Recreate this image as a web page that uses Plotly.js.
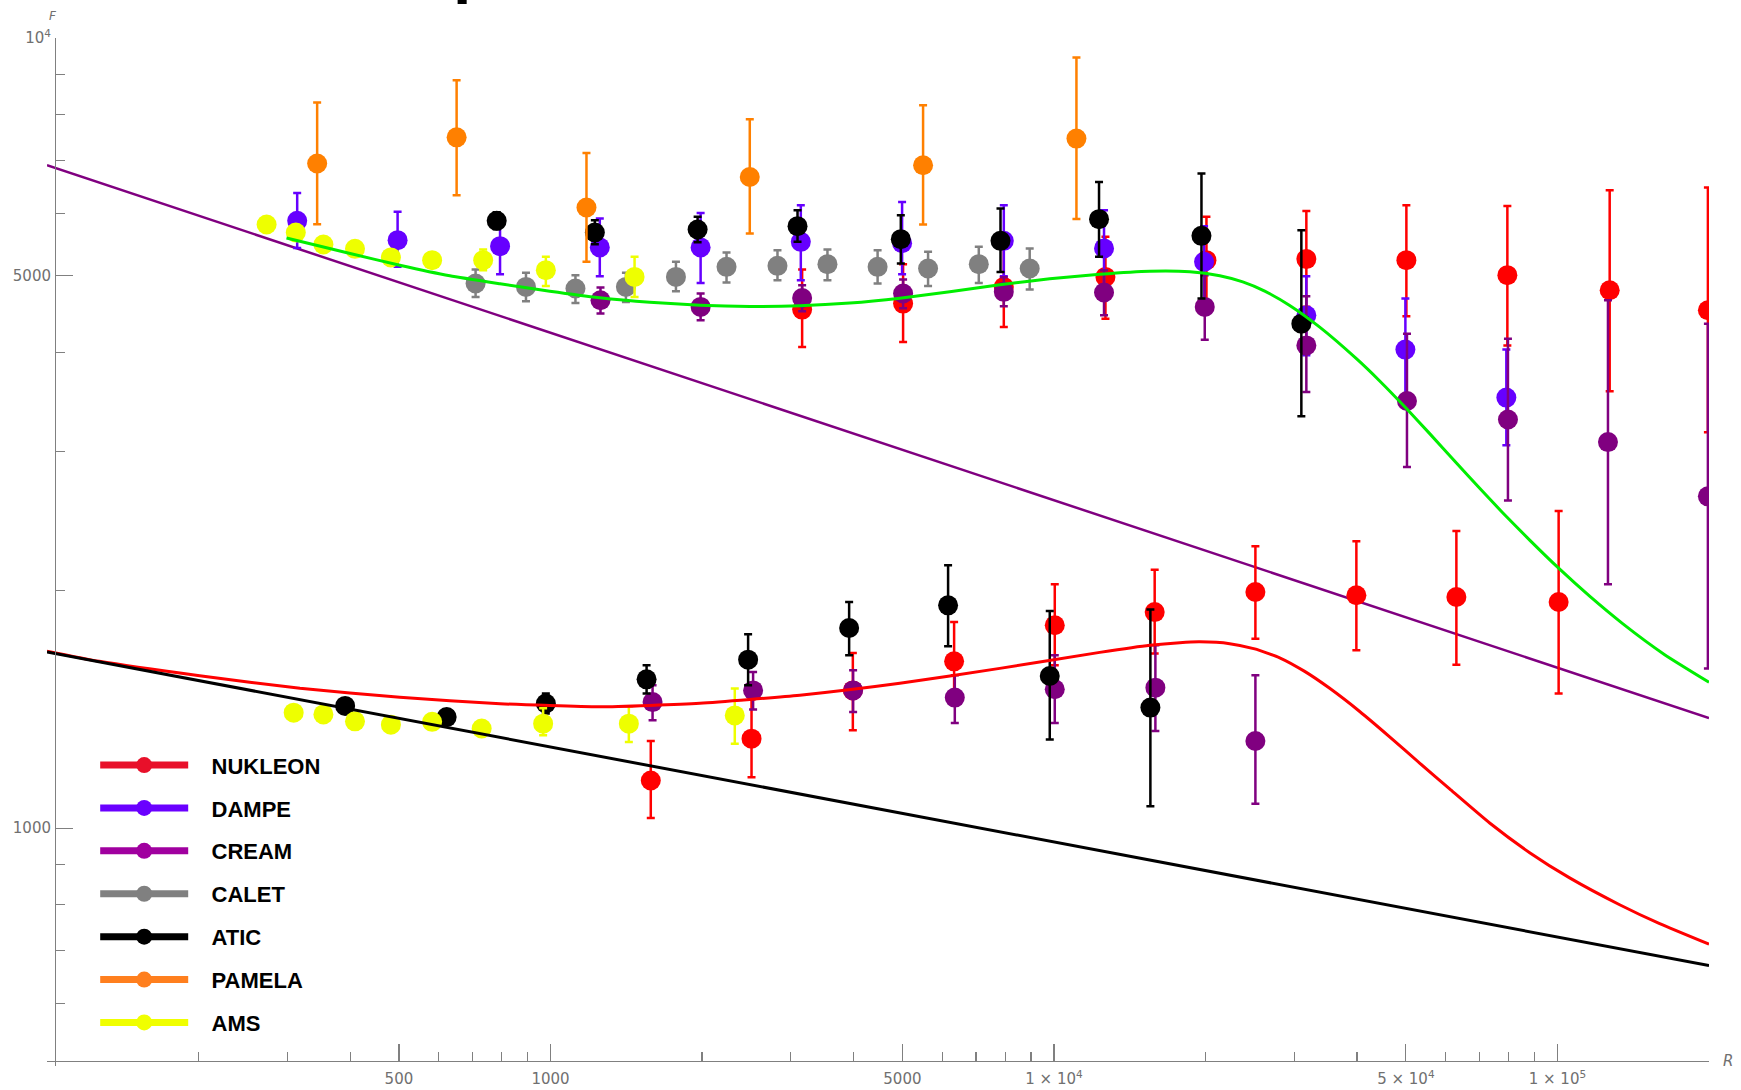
<!DOCTYPE html>
<html>
<head>
<meta charset="utf-8">
<script src="https://cdn.plot.ly/plotly-3.0.1.min.js"></script>
<style>
  html, body { margin: 0; padding: 0; background: #ffffff; }
  #chart { width: 1741px; height: 1090px; }
</style>
</head>
<body>
<div id="chart"></div>
<script>
// ---- Experiment series: rigidity R, flux F, upper and lower error bounds ----
// NUKLEON
const nukleonP_R  = [3161, 5016, 7950, 12655, 20085, 31717, 50115, 79530, 126990, 199000];
const nukleonP_F  = [4532, 4612, 4842, 4985, 5234, 5250, 5234, 5010, 4795, 4523];
const nukleonP_hi = [5094, 5173, 5432, 5602, 5938, 6042, 6143, 6131, 6417, 6467];
const nukleonP_lo = [4063, 4123, 4307, 4414, 4612, 4570, 4444, 4083, 3571, 3171];

const nukleonHe_R  = [1582, 2508, 3986, 6334, 10037, 15851, 25125, 39870, 62990, 100550];
const nukleonHe_F  = [1149, 1298, 1494, 1626, 1806, 1877, 1990, 1971, 1961, 1933];
const nukleonHe_hi = [1289, 1456, 1666, 1823, 2035, 2124, 2274, 2307, 2377, 2519];
const nukleonHe_lo = [1030, 1160, 1330, 1452, 1607, 1663, 1737, 1679, 1610, 1480];

// DAMPE
const dampeP_R  = [314, 497, 794, 1253, 1987, 3142, 4993, 7950, 12573, 19867, 31717, 49886, 79165];
const dampeP_F  = [5869, 5548, 5452, 5432, 5432, 5521, 5500, 5537, 5416, 5208, 4457, 4033, 3507];
const dampeP_hi = [6367, 6025, 5914, 5910, 6007, 6143, 6202, 6143, 6055, 5779, 4995, 4680, 4033];
const dampeP_lo = [5421, 5133, 5025, 4995, 4898, 4937, 5025, 4995, 4795, 4657, 3966, 3530, 3051];

// CREAM
const creamP_R  = [1257, 1987, 3161, 5016, 7950, 12573, 19930, 31717, 50252, 79746, 126000, 199000];
const creamP_F  = [4657, 4567, 4688, 4749, 4772, 4763, 4567, 4083, 3472, 3290, 3080, 2630];
const creamP_hi = [4832, 4749, 4866, 4948, 4981, 5084, 5010, 4712, 4225, 4164, 4657, 4350];
const creamP_lo = [4480, 4392, 4510, 4549, 4576, 4457, 4152, 3564, 2864, 2599, 2035, 1592];

const creamHe_R  = [1595, 2526, 3991, 6354, 10037, 15902, 25125];
const creamHe_F  = [1444, 1494, 1494, 1463, 1499, 1506, 1289];
const creamHe_hi = [1516, 1576, 1584, 1561, 1655, 1704, 1561];
const creamHe_lo = [1369, 1413, 1403, 1359, 1359, 1327, 1074];

// CALET
const caletP_R  = [710, 894, 1121, 1412, 1775, 2237, 2824, 3549, 4464, 5623, 7091, 8950];
const caletP_F  = [4890, 4842, 4819, 4842, 4985, 5133, 5148, 5173, 5133, 5109, 5173, 5109];
const caletP_hi = [5094, 5044, 5010, 5044, 5208, 5353, 5389, 5400, 5389, 5363, 5441, 5416];
const caletP_lo = [4702, 4643, 4620, 4634, 4781, 4904, 4937, 4937, 4890, 4856, 4898, 4805];

// ATIC
const aticP_R  = [782, 1225, 1960, 3095, 4964, 7831, 12289, 19632, 31000];
const aticP_F  = [5869, 5674, 5724, 5779, 5564, 5537, 5898, 5618, 4350];
const aticP_hi = [6019, 5881, 5938, 6055, 5967, 6085, 6574, 6737, 5712];
const aticP_lo = [5729, 5484, 5516, 5521, 5184, 5058, 5285, 4680, 3321];

const aticHe_R  = [391, 622, 979, 1552, 2469, 3919, 6162, 9810, 15543];
const aticHe_F  = [1428, 1382, 1438, 1543, 1634, 1792, 1914, 1558, 1421];
const aticHe_hi = [1460, 1414, 1480, 1607, 1759, 1933, 2151, 1883, 1891];
const aticHe_lo = [1397, 1353, 1397, 1480, 1516, 1655, 1699, 1295, 1066];

// PAMELA
const pamelaP_R  = [344, 651, 1179, 2488, 5496, 11083];
const pamelaP_F  = [6936, 7487, 6102, 6670, 6902, 7459];
const pamelaP_hi = [8284, 8841, 7153, 7890, 8219, 9445];
const pamelaP_lo = [5813, 6324, 5208, 5658, 5808, 5903];

// AMS
const amsP_R  = [273, 312, 354, 409, 482, 582, 735, 979, 1469];
const amsP_F  = [5808, 5674, 5479, 5410, 5276, 5234, 5234, 5084, 4985];
const amsP_hi = [5910, 5774, 5575, 5505, 5369, 5326, 5400, 5285, 5285];
const amsP_lo = [5707, 5576, 5384, 5316, 5185, 5143, 5084, 4856, 4702];

const amsHe_R  = [309, 354, 409, 482, 582, 730, 967, 1431, 2323];
const amsHe_F  = [1400, 1393, 1365, 1352, 1363, 1337, 1356, 1356, 1389];
const amsHe_hi = [1421, 1414, 1386, 1372, 1384, 1357, 1418, 1426, 1502];
const amsHe_lo = [1379, 1372, 1344, 1332, 1342, 1317, 1311, 1285, 1279];

// ---- Model curves ----
const powerUpper_R = [100, 200000];
const powerUpper_F = [6901, 1378];
const powerLower_R = [100, 200000];
const powerLower_F = [1671, 670];

const modelP_R = [299, 400, 502, 631, 794, 997, 1253, 1575, 1980, 2489, 3128, 3932, 4942, 6210, 7806, 9810,
                  12329, 15497, 18613, 21348, 23714, 26224, 29394, 33714, 39929, 44359, 50186, 55754,
                  63076, 70077, 77846, 88081, 100550, 115860, 134730, 163290, 200000];
const modelP_F = [5584, 5337, 5157, 5001, 4886, 4781, 4691, 4630, 4590, 4574, 4583, 4619, 4684, 4774, 4872, 4958,
                  5023, 5068, 5060, 5001, 4912, 4782, 4587, 4306, 3925, 3681, 3394, 3157,
                  2896, 2692, 2507, 2315, 2133, 1966, 1815, 1658, 1530];

const modelHe_R = [100, 127, 201, 318, 502, 794, 1253, 1980, 3128, 4942, 7806, 12329, 15497, 17777, 19480,
                   22338, 25045, 28076, 31478, 35290, 40480, 46420, 53240, 61070, 73350, 88080, 105740,
                   132900, 159600, 200000];
const modelHe_F = [1675, 1626, 1559, 1503, 1464, 1437, 1424, 1439, 1473, 1525, 1593, 1669, 1704, 1717, 1721,
                   1712, 1686, 1643, 1579, 1503, 1405, 1305, 1209, 1121, 1015, 931, 865,
                   800, 757, 713];

// ---- Axis ticks ----
const xMajorVals = [100, 500, 1000, 5000, 10000, 50000, 100000];
const xMajorText = ['', '500', '1000', '5000', '1 \u00d7 10<sup>4</sup>', '5 \u00d7 10<sup>4</sup>', '1 \u00d7 10<sup>5</sup>'];
const xMinorVals = [200, 300, 400, 600, 700, 800, 900, 2000, 3000, 4000, 6000, 7000, 8000, 9000,
                    20000, 30000, 40000, 60000, 70000, 80000, 90000, 200000];
const yMajorVals = [500, 1000, 5000, 10000];
const yMajorText = ['', '1000', '5000', '10<sup>4</sup>'];
const yMinorVals = [600, 700, 800, 900, 2000, 3000, 4000, 6000, 7000, 8000, 9000];

// ---- Legend entries ----
const legendNames  = ['NUKLEON', 'DAMPE', 'CREAM', 'CALET', 'ATIC', 'PAMELA', 'AMS'];
const legendColors = ['#E8102A', '#6A00FF', '#A0009F', '#808080', '#000000', '#FF7F1E', '#F0FF00'];

const colors = {
  NUKLEON: '#FF0000', DAMPE: '#6600FF', CREAM: '#800080', CALET: '#808080',
  ATIC: '#000000', PAMELA: '#FF8000', AMS: '#EEFF00'
};

function points(name, R, F, hi, lo) {
  const c = colors[name];
  return {
    type: 'scatter', mode: 'markers', name: name, legendgroup: name, showlegend: false,
    x: R, y: F,
    marker: { color: c, size: 20 },
    error_y: {
      type: 'data', symmetric: false,
      array: hi.map((h, i) => h - F[i]),
      arrayminus: lo.map((l, i) => F[i] - l),
      color: c, thickness: 2.5, width: 4
    }
  };
}

function curve(R, F, color, width) {
  return {
    type: 'scatter', mode: 'lines', x: R, y: F, showlegend: false, hoverinfo: 'skip',
    line: { color: color, width: width, shape: 'spline', smoothing: 0.5 }
  };
}

const traces = [
  curve(powerUpper_R, powerUpper_F, '#800080', 2.5),
  points('NUKLEON', nukleonP_R, nukleonP_F, nukleonP_hi, nukleonP_lo),
  points('NUKLEON', nukleonHe_R, nukleonHe_F, nukleonHe_hi, nukleonHe_lo),
  points('DAMPE', dampeP_R, dampeP_F, dampeP_hi, dampeP_lo),
  points('CREAM', creamP_R, creamP_F, creamP_hi, creamP_lo),
  points('CREAM', creamHe_R, creamHe_F, creamHe_hi, creamHe_lo),
  points('CALET', caletP_R, caletP_F, caletP_hi, caletP_lo),
  points('ATIC', aticP_R, aticP_F, aticP_hi, aticP_lo),
  points('ATIC', aticHe_R, aticHe_F, aticHe_hi, aticHe_lo),
  points('PAMELA', pamelaP_R, pamelaP_F, pamelaP_hi, pamelaP_lo),
  points('AMS', amsP_R, amsP_F, amsP_hi, amsP_lo),
  points('AMS', amsHe_R, amsHe_F, amsHe_hi, amsHe_lo),
  curve(modelP_R, modelP_F, '#00EE00', 3),
  curve(modelHe_R, modelHe_F, '#FF0000', 3),
  curve(powerLower_R, powerLower_F, '#000000', 3)
];

// legend-only entries: a thick line with a dot, label set a little apart from the symbol
legendNames.forEach((n, i) => {
  traces.push({
    type: 'scatter', mode: 'lines+markers', name: '\u00a0\u00a0\u00a0' + n, legendgroup: n,
    x: [null], y: [null],
    line: { color: legendColors[i], width: 7 },
    marker: { color: legendColors[i], size: 23 }
  });
});

const axisGray = '#808080';
const tickFont = { family: 'DejaVu Sans, Verdana, sans-serif', size: 15, color: '#707070' };

const layout = {
  width: 1741, height: 1090,
  margin: { l: 47, r: 32, t: 38, b: 24, pad: 0 },
  paper_bgcolor: '#ffffff', plot_bgcolor: '#ffffff',
  showlegend: true,
  legend: {
    x: 0.029, y: 0.313, xanchor: 'left', yanchor: 'top',
    traceorder: 'grouped', tracegroupgap: 11.3, itemwidth: 88, itemsizing: 'trace',
    bgcolor: 'rgba(0,0,0,0)',
    font: { family: 'Liberation Sans, Arial, sans-serif', size: 22, color: '#000000', weight: 'bold' }
  },
  xaxis: {
    type: 'log', range: [2, Math.log10(200000)], autorange: false,
    anchor: 'free', position: 0.00516,
    showline: true, linecolor: axisGray, linewidth: 1.2,
    showgrid: false, zeroline: false,
    tickmode: 'array', tickvals: xMajorVals, ticktext: xMajorText,
    ticks: 'inside', ticklen: 17, tickwidth: 1.2, tickcolor: axisGray,
    tickfont: tickFont, ticklabelstandoff: 4,
    minor: { tickmode: 'array', tickvals: xMinorVals, ticks: 'inside', ticklen: 9, tickwidth: 1.2, tickcolor: axisGray, showgrid: false },
    automargin: false
  },
  yaxis: {
    type: 'log', range: [Math.log10(500), 4], autorange: false,
    anchor: 'free', position: 0.00481,
    showline: true, linecolor: axisGray, linewidth: 1.2,
    showgrid: false, zeroline: false,
    tickmode: 'array', tickvals: yMajorVals, ticktext: yMajorText,
    ticks: 'inside', ticklen: 17, tickwidth: 1.2, tickcolor: axisGray,
    tickfont: tickFont, ticklabelstandoff: 1,
    minor: { tickmode: 'array', tickvals: yMinorVals, ticks: 'inside', ticklen: 9, tickwidth: 1.2, tickcolor: axisGray, showgrid: false },
    automargin: false
  },
  annotations: [
    { text: 'F', xref: 'paper', yref: 'paper', x: 0.0035, y: 1.021, xanchor: 'center', yanchor: 'middle',
      showarrow: false, font: { family: 'DejaVu Sans, Verdana, sans-serif', size: 12, color: '#707070', style: 'italic' } },
    { text: 'R', xref: 'paper', yref: 'paper', x: 1, y: 0.00516, xanchor: 'left', yanchor: 'middle', xshift: 12,
      showarrow: false, font: { family: 'DejaVu Sans, Verdana, sans-serif', size: 15, color: '#707070', style: 'italic' } },
    { text: '<b>p</b>', xref: 'paper', yref: 'paper', x: 0.2433, y: 1.0308, xanchor: 'left', yanchor: 'bottom',
      showarrow: false, font: { family: 'Liberation Sans, Arial, sans-serif', size: 66, color: '#000000' } }
  ]
};

Plotly.newPlot('chart', traces, layout, { displayModeBar: false, staticPlot: true });
</script>
</body>
</html>
